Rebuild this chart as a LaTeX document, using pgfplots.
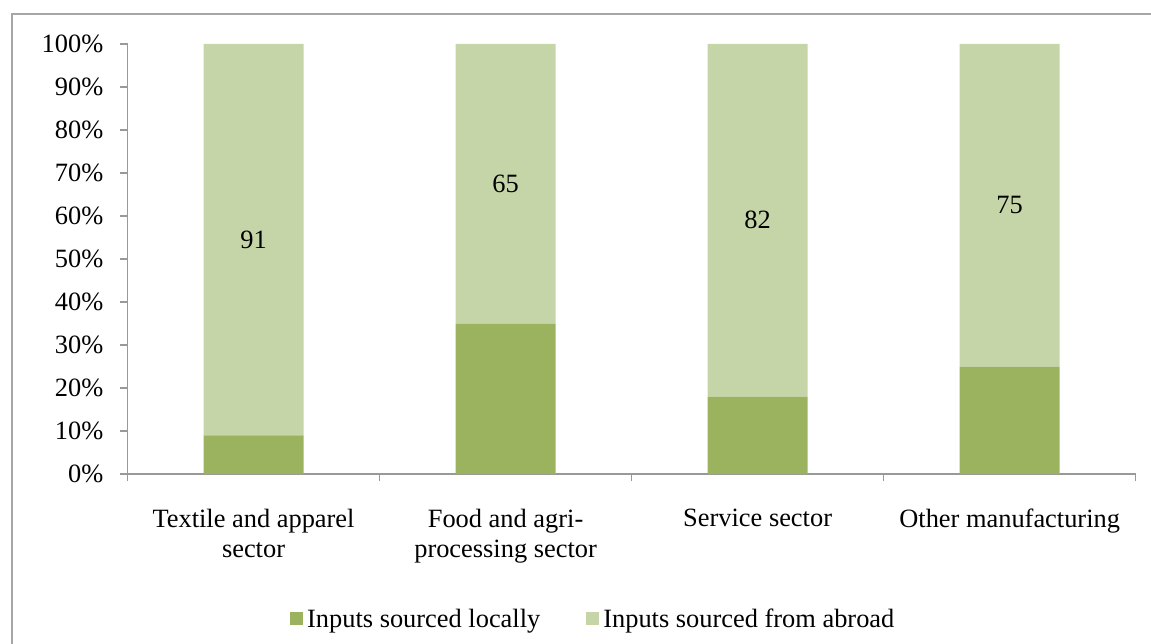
\documentclass[border=0pt]{standalone}
\usepackage{pgfplots}
\pgfplotsset{compat=1.18}
\usepackage{fontspec}
\setmainfont{Liberation Serif}
\definecolor{localc}{HTML}{9BB35F}
\definecolor{abroadc}{HTML}{C5D5A8}
\definecolor{axisgray}{HTML}{999999}
\definecolor{framegray}{HTML}{A6A6A6}
\begin{document}
\fontsize{13.2}{15}\selectfont
\begin{tikzpicture}
\useasboundingbox (0,0) rectangle (575.5pt,321.5pt);
\begin{scope}
\clip (0,0) rectangle (575.5pt,321.5pt);
\draw[framegray, line width=1pt] (6pt,-20pt) -- (6pt,314.5pt) -- (600pt,314.5pt);
\end{scope}
\begin{axis}[
  at={(63.75pt,84.5pt)}, anchor=south west,
  scale only axis, width=504.1pt, height=215pt,
  ybar stacked, bar width=50pt,
  xmin=-0.5, xmax=3.5, ymin=0, ymax=100,
  axis x line*=bottom, axis y line*=left,
  axis line style={axisgray, line width=0.7pt, -},
  tick style={axisgray, line width=0.7pt},
  tick align=outside, major tick length=3.5pt,
  ytick={0,10,...,100},
  yticklabels={0\%,10\%,20\%,30\%,40\%,50\%,60\%,70\%,80\%,90\%,100\%},
  yticklabel style={font=\fontsize{13.2}{15}\selectfont, anchor=east, xshift=-4pt},
  xtick={-0.5,0.5,1.5,2.5,3.5},
  xticklabels={,,,,,},
  extra x ticks={0,1,2,3},
  extra x tick labels={{Textile and apparel\\sector},{Food and agri-\\processing sector},{Service sector},{Other manufacturing}},
  extra x tick style={major tick length=0pt, xticklabel style={align=center, anchor=north, yshift=-13pt, font=\fontsize{13.2}{15}\selectfont}},
  legend columns=2,
  legend style={at={(0.463,-0.34)}, anchor=center, draw=none, fill=none,
    font=\fontsize{13.2}{15}\selectfont,
    /tikz/every even column/.append style={column sep=21pt}},
  legend image code/.code={\fill[#1] (1.5pt,-2.5pt) rectangle (8pt,4pt);},
]
\addplot[fill=localc, draw=none] coordinates {(0,9) (1,35) (2,18) (3,25)};
\addlegendentry{Inputs sourced locally}
\addplot[fill=abroadc, draw=none] coordinates {(0,91) (1,65) (2,82) (3,75)};
\addlegendentry{Inputs sourced from abroad}
\end{axis}
\begin{axis}[
  at={(63.75pt,84.5pt)}, anchor=south west,
  scale only axis, width=504.1pt, height=215pt,
  xmin=-0.5, xmax=3.5, ymin=0, ymax=100, hide axis,
]
\addplot[draw=none, mark=none, nodes near coords, point meta=explicit symbolic,
  every node near coord/.append style={anchor=center, font=\fontsize{13.2}{15}\selectfont, text=black}]
  coordinates {(0,54.5) [91] (1,67.5) [65] (2,59) [82] (3,62.5) [75]};
\end{axis}
\end{tikzpicture}
\end{document}
